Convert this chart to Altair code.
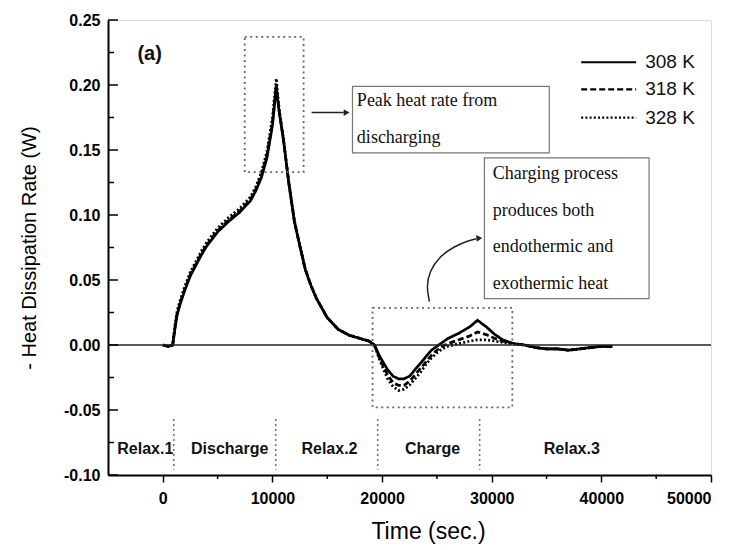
import altair as alt
import pandas as pd

# ---------------- data ----------------
series_names = ["308 K", "318 K", "328 K"]

t_308 = [0, 500, 900, 1100, 1300, 1600, 2000, 2500, 3000, 3500, 4000, 5000, 6000, 7000, 8000,
         8500, 9000, 9500, 10000, 10350, 10600, 11000, 11500, 12000, 12500, 13000, 13500, 14000,
         15000, 16000, 17000, 18000, 18800, 19300, 19800, 20500, 21000, 21500, 22000, 22500,
         23000, 23500, 24000, 24500, 25000, 25500, 26000, 27000, 28000, 28700, 29500, 30300,
         31000, 32000, 33000, 34000, 35000, 36000, 37000, 38000, 39000, 40000, 41000]
q_308 = [0, -0.001, 0.000, 0.012, 0.023, 0.032, 0.042, 0.053, 0.061, 0.069, 0.076, 0.087, 0.095,
         0.102, 0.111, 0.119, 0.129, 0.144, 0.169, 0.198, 0.180, 0.158, 0.124, 0.095, 0.076,
         0.058, 0.046, 0.036, 0.021, 0.012, 0.0075, 0.005, 0.003, 0.000, -0.009, -0.019, -0.024,
         -0.026, -0.026, -0.024, -0.019, -0.014, -0.009, -0.004, -0.001, 0.002, 0.005, 0.009,
         0.014, 0.019, 0.014, 0.008, 0.004, 0.001, 0.000, -0.002, -0.003, -0.003, -0.004,
         -0.003, -0.002, -0.001, -0.001]
q_318 = [0, -0.001, 0.000, 0.013, 0.024, 0.033, 0.043, 0.054, 0.062, 0.070, 0.077, 0.088, 0.096,
         0.103, 0.112, 0.120, 0.131, 0.146, 0.171, 0.200, 0.181, 0.158, 0.124, 0.095, 0.076,
         0.058, 0.046, 0.036, 0.021, 0.012, 0.0075, 0.005, 0.003, 0.000, -0.011, -0.023, -0.029,
         -0.031, -0.031, -0.028, -0.023, -0.018, -0.013, -0.008, -0.004, -0.001, 0.001, 0.004,
         0.007, 0.010, 0.008, 0.005, 0.003, 0.001, 0.000, -0.002, -0.003, -0.003, -0.004,
         -0.003, -0.002, -0.001, -0.001]
q_328 = [0, -0.001, 0.000, 0.015, 0.026, 0.035, 0.045, 0.056, 0.064, 0.072, 0.079, 0.090, 0.098,
         0.105, 0.114, 0.122, 0.133, 0.149, 0.175, 0.205, 0.182, 0.159, 0.125, 0.096, 0.077,
         0.058, 0.046, 0.036, 0.021, 0.012, 0.0075, 0.005, 0.003, 0.000, -0.012, -0.026, -0.032,
         -0.035, -0.034, -0.031, -0.026, -0.021, -0.015, -0.010, -0.006, -0.003, -0.001, 0.001,
         0.003, 0.004, 0.004, 0.003, 0.002, 0.001, 0.000, -0.002, -0.003, -0.003, -0.004,
         -0.003, -0.002, -0.001, -0.001]

x_ticks = [0, 10000, 20000, 30000, 40000, 50000]
x_minor = [5000, 15000, 25000, 35000, 45000]
y_ticks = [-0.10, -0.05, 0.00, 0.05, 0.10, 0.15, 0.20, 0.25]
y_minor = [-0.075, -0.025, 0.025, 0.075, 0.125, 0.175, 0.225]

phase_labels = ["Relax.1", "Discharge", "Relax.2", "Charge", "Relax.3"]
phase_centers = [-1600, 6100, 15200, 24600, 37300]
phase_bounds = [1000, 10300, 19600, 28900]

# annotation boxes (data coords)
dotted_boxes_x = [7470, 19130]
dotted_boxes_x2 = [12840, 31880]
dotted_boxes_y = [0.133, -0.048]
dotted_boxes_y2 = [0.237, 0.0286]

note_box_x = [17300, 29330]
note_box_x2 = [35250, 44350]
note_box_y = [0.1478, 0.0356]
note_box_y2 = [0.1989, 0.1440]

note_lines = ["Peak heat rate from", "discharging",
              "Charging process", "produces both", "endothermic and", "exothermic heat"]
note_line_x = [17700, 17700, 30100, 30100, 30100, 30100]
note_line_y = [0.188, 0.1594, 0.1316, 0.1029, 0.0751, 0.0472]

arrow1_x = [13570, 16500]
arrow1_y = [0.1788, 0.1788]
curve_x = [24317, 24044, 24317, 25228, 26594, 27960, 28600]
curve_y = [0.0333, 0.0449, 0.0565, 0.0681, 0.0759, 0.0805, 0.0818]
head_x = [16760, 28871]
head_y = [0.1788, 0.0822]
head_angle = [0, 355]

legend_x1 = [38160] * 3
legend_x2 = [43170] * 3
legend_y = [0.2175, 0.1966, 0.1749]
legend_label_x = [44000] * 3

# ---------------- frames ----------------
curves = pd.concat([
    pd.DataFrame({"t": t_308, "q": q, "series": s})
    for q, s in zip([q_308, q_318, q_328], series_names)
])

X_DOM = [-5000, 50000]
Y_DOM = [-0.10, 0.25]
W, H = 603, 455

xs = alt.Scale(domain=X_DOM, nice=False, zero=False)
ys = alt.Scale(domain=Y_DOM, nice=False, zero=False)
dash_scale = alt.Scale(domain=series_names, range=[[1, 0], [6, 3], [2, 2.2]])

font = "Liberation Sans"
serif = "Liberation Serif"

base_curves = alt.Chart(curves).mark_line(color="black", strokeWidth=2.7).encode(
    x=alt.X("t:Q", scale=xs, title="Time (sec.)",
            axis=alt.Axis(values=x_ticks, format="d", labelFont=font, labelFontWeight="bold",
                          labelFontSize=16, labelColor="black", labelPadding=8, tickSize=7,
                          tickWidth=1.5, tickColor="black", domainColor="black", domainWidth=2,
                          grid=False, titleFont=font, titleFontSize=23, titleFontWeight="normal",
                          titleColor="black", titlePadding=14, titleX=320)),
    y=alt.Y("q:Q", scale=ys, title="- Heat Dissipation Rate (W)",
            axis=alt.Axis(values=y_ticks, ticks=False, grid=False,
                          labelExpr="datum.value < 0 ? '-' + format(abs(datum.value), '.2f') : format(datum.value, '.2f')",
                          labelFont=font, labelFontWeight="bold", labelFontSize=16,
                          labelColor="black", labelPadding=8, domainColor="black", domainWidth=2,
                          titleFont=font, titleFontSize=20, titleFontWeight="normal",
                          titleColor="black", titlePadding=24)),
    strokeDash=alt.StrokeDash("series:N", scale=dash_scale, legend=None),
    detail="series:N",
)

zero_df = pd.DataFrame({"x": [X_DOM[0]], "x2": [X_DOM[1]], "y": [0.0]})
zero_line = alt.Chart(zero_df).mark_rule(color="#222", strokeWidth=1.5).encode(
    x=alt.X("x:Q", scale=xs), x2="x2:Q", y=alt.Y("y:Q", scale=ys))

# inward y ticks
ymaj = alt.Chart(pd.DataFrame({"y": y_ticks})).mark_rule(color="black", strokeWidth=1.5).encode(
    y=alt.Y("y:Q", scale=ys), x=alt.value(0), x2=alt.value(10))
ymin = alt.Chart(pd.DataFrame({"y": y_minor})).mark_rule(color="black", strokeWidth=1.5).encode(
    y=alt.Y("y:Q", scale=ys), x=alt.value(0), x2=alt.value(6))
# outward minor x ticks
xmin = alt.Chart(pd.DataFrame({"x": x_minor})).mark_rule(color="black", strokeWidth=1.5).encode(
    x=alt.X("x:Q", scale=xs), y=alt.value(H), y2=alt.value(H + 4))

# dotted annotation rectangles
dbox = alt.Chart(pd.DataFrame({"x": dotted_boxes_x, "x2": dotted_boxes_x2,
                               "y": dotted_boxes_y, "y2": dotted_boxes_y2})).mark_rect(
    fillOpacity=0, stroke="#666", strokeWidth=1.8, strokeDash=[2, 3.5]).encode(
    x=alt.X("x:Q", scale=xs), x2="x2:Q", y=alt.Y("y:Q", scale=ys), y2="y2:Q")

# phase separators
sep = alt.Chart(pd.DataFrame({"x": phase_bounds, "y": [-0.057] * 4, "y2": [-0.096] * 4})).mark_rule(
    color="#777", strokeWidth=1.6, strokeDash=[2, 3]).encode(
    x=alt.X("x:Q", scale=xs), y=alt.Y("y:Q", scale=ys), y2="y2:Q")

phase_txt = alt.Chart(pd.DataFrame({"x": phase_centers, "y": [-0.080] * 5, "label": phase_labels})).mark_text(
    font=font, fontWeight="bold", fontSize=16, color="#111", align="center", baseline="middle").encode(
    x=alt.X("x:Q", scale=xs), y=alt.Y("y:Q", scale=ys), text="label:N")

panel_txt = alt.Chart(pd.DataFrame({"x": [-1200], "y": [0.224], "label": ["(a)"]})).mark_text(
    font=font, fontWeight="bold", fontSize=20, color="#111", align="center", baseline="middle").encode(
    x=alt.X("x:Q", scale=xs), y=alt.Y("y:Q", scale=ys), text="label:N")

# note boxes
nbox = alt.Chart(pd.DataFrame({"x": note_box_x, "x2": note_box_x2,
                               "y": note_box_y, "y2": note_box_y2})).mark_rect(
    fill="white", stroke="#777", strokeWidth=1.2).encode(
    x=alt.X("x:Q", scale=xs), x2="x2:Q", y=alt.Y("y:Q", scale=ys), y2="y2:Q")

ntxt = alt.Chart(pd.DataFrame({"x": note_line_x, "y": note_line_y, "label": note_lines})).mark_text(
    font=serif, fontSize=18, color="#111", align="left", baseline="middle").encode(
    x=alt.X("x:Q", scale=xs), y=alt.Y("y:Q", scale=ys), text="label:N")

# arrows
a1 = alt.Chart(pd.DataFrame({"x": arrow1_x, "y": arrow1_y, "o": [0, 1]})).mark_line(
    color="#222", strokeWidth=1.5).encode(
    x=alt.X("x:Q", scale=xs), y=alt.Y("y:Q", scale=ys), order="o:Q")
a2 = alt.Chart(pd.DataFrame({"x": curve_x, "y": curve_y, "o": list(range(len(curve_x)))})).mark_line(
    color="#222", strokeWidth=1.5, interpolate="basis").encode(
    x=alt.X("x:Q", scale=xs), y=alt.Y("y:Q", scale=ys), order="o:Q")
heads = alt.Chart(pd.DataFrame({"x": head_x, "y": head_y, "a": head_angle})).mark_point(
    shape="triangle-right", filled=True, color="#222", size=45, opacity=1).encode(
    x=alt.X("x:Q", scale=xs), y=alt.Y("y:Q", scale=ys), angle=alt.Angle("a:Q", scale=None))

# custom legend
leg_df = pd.DataFrame({"x": legend_x1, "x2": legend_x2, "y": legend_y,
                       "lx": legend_label_x, "series": series_names})
leg_lines = alt.Chart(leg_df).mark_rule(color="black", strokeWidth=2.2).encode(
    x=alt.X("x:Q", scale=xs), x2="x2:Q", y=alt.Y("y:Q", scale=ys),
    strokeDash=alt.StrokeDash("series:N", scale=dash_scale, legend=None))
leg_txt = alt.Chart(leg_df).mark_text(font=font, fontSize=19, color="#111", align="left",
                                      baseline="middle").encode(
    x=alt.X("lx:Q", scale=xs), y=alt.Y("y:Q", scale=ys), text="series:N")

chart = alt.layer(
    base_curves, zero_line, dbox, sep, phase_txt, panel_txt, nbox, ntxt, a1, a2, heads,
    leg_lines, leg_txt, ymaj, ymin, xmin
).properties(
    width=W, height=H,
    autosize=alt.AutoSizeParams(type="none"),
    padding={"left": 100, "top": 12, "right": 20, "bottom": 72},
).configure_view(stroke="black", strokeWidth=1.5).configure(background="white")

chart.save("out.html", embed_options={"renderer": "svg", "actions": False})
